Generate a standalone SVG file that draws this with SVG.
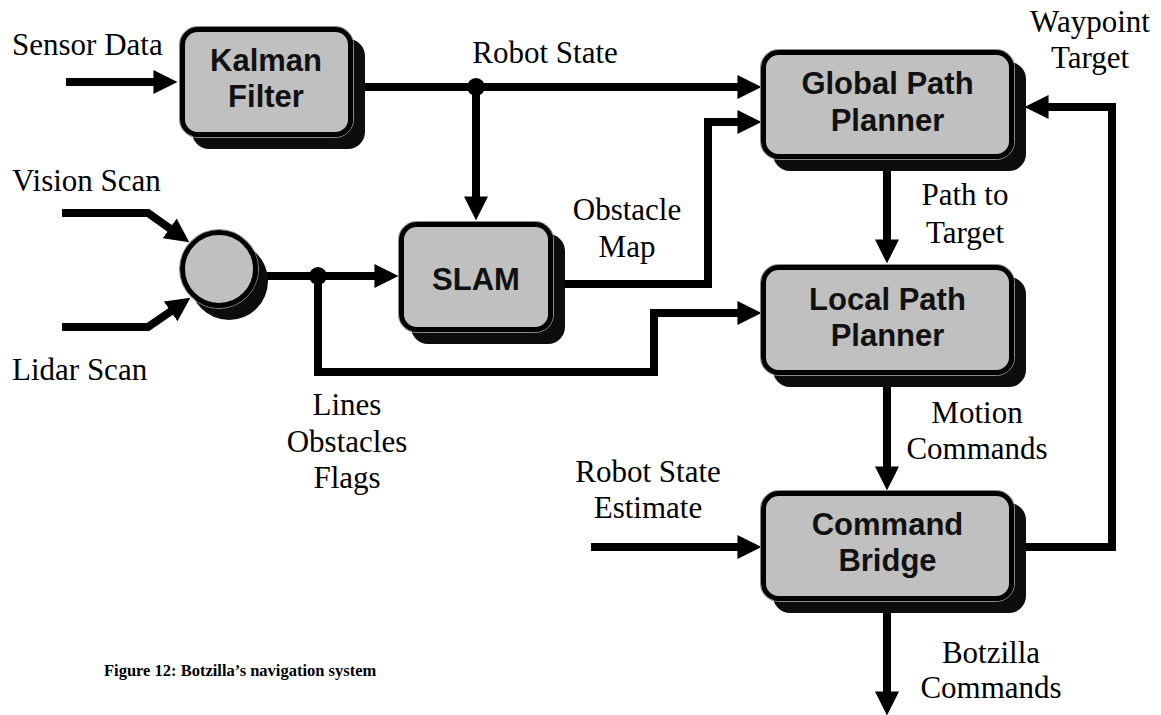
<svg xmlns="http://www.w3.org/2000/svg" width="1161" height="715" viewBox="0 0 1161 715">
  <style>
    .lbl { font-family: "Liberation Serif", "Times New Roman", serif; font-size: 31px; fill: #000; }
    .mid { text-anchor: middle; }
    .box { fill: #c0c0c0; stroke: #000; stroke-width: 5; }
    .edge { fill: none; stroke: #8a8a8a; stroke-width: 1; }
    .shadow { fill: #0d0d0d; }
    .name { font-family: "Liberation Sans", Arial, sans-serif; font-size: 31px; font-weight: bold; text-anchor: middle; fill: #111; }
    .wire { fill: none; stroke: #000; stroke-width: 8; stroke-linejoin: miter; }
    .arrow { marker-end: url(#head); }
    .caption { font-family: "Liberation Serif", "Times New Roman", serif; font-size: 16.5px; font-weight: bold; fill: #000; }
  </style>
  <defs>
    <marker id="head" markerUnits="userSpaceOnUse" markerWidth="24" markerHeight="24" viewBox="0 0 23 23" refX="13" refY="11.5" orient="auto">
      <path d="M0,0 L23,11.5 L0,23 Z" fill="#000"/>
    </marker>
  </defs>
  <rect width="1161" height="715" fill="#fff"/>

  <!-- connectors -->
  <g id="connectors">
    <!-- sensor data into Kalman filter -->
    <path class="wire arrow" d="M66,82 H167"/>
    <!-- robot state to global planner -->
    <path class="wire arrow" d="M353,87 H751"/>
    <!-- robot state down to SLAM -->
    <path class="wire arrow" d="M476,87 V210"/>
    <circle cx="476" cy="87" r="9" fill="#000"/>
    <!-- vision / lidar into the merge node -->
    <path class="wire arrow" d="M62,213 H148 L180.8,236.2"/>
    <path class="wire arrow" d="M62,327 H148 L181.8,303.7"/>
    <!-- merged scan into SLAM -->
    <path class="wire arrow" d="M256,276 H388"/>
    <circle cx="318" cy="276" r="9" fill="#000"/>
    <!-- scan features to local planner -->
    <path class="wire arrow" d="M318,276 V372 H654 V313 H751"/>
    <!-- obstacle map to global planner -->
    <path class="wire arrow" d="M553,284 H708 V122 H751"/>
    <!-- global to local planner -->
    <path class="wire arrow" d="M887,158 V253"/>
    <!-- local planner to command bridge -->
    <path class="wire arrow" d="M887,375 V480"/>
    <!-- robot state estimate into command bridge -->
    <path class="wire arrow" d="M591,547 H751"/>
    <!-- command bridge feedback to global planner -->
    <path class="wire arrow" d="M1020,547 H1112 V107 H1035"/>
    <!-- command bridge output -->
    <path class="wire arrow" d="M887,600 V705"/>
  </g>

  <!-- nodes -->
  <g id="kalman">
    <rect class="shadow" x="192" y="39" width="173" height="110" rx="17"/>
    <rect class="edge" x="179.5" y="26.5" width="174" height="111" rx="18"/>
    <rect class="box" x="182.5" y="29.5" width="168" height="105" rx="15"/>
    <text class="name" x="266" y="71">Kalman</text>
    <text class="name" x="266" y="107">Filter</text>
  </g>

  <g id="merge">
    <circle class="shadow" cx="229" cy="281" r="39"/>
    <circle cx="219" cy="269" r="39.5" fill="none" stroke="#8a8a8a" stroke-width="1"/>
    <circle class="box" cx="219" cy="269" r="36.5"/>
  </g>

  <g id="slam">
    <rect class="shadow" x="411" y="234" width="154" height="110" rx="17"/>
    <rect class="edge" x="398.5" y="221.5" width="155" height="111" rx="18"/>
    <rect class="box" x="401.5" y="224.5" width="149" height="105" rx="15"/>
    <text class="name" x="476" y="290">SLAM</text>
  </g>

  <g id="global-planner">
    <rect class="shadow" x="773" y="62" width="253" height="109" rx="17"/>
    <rect class="edge" x="760.5" y="49.5" width="254" height="110" rx="18"/>
    <rect class="box" x="763.5" y="52.5" width="248" height="104" rx="15"/>
    <text class="name" x="887.5" y="94">Global Path</text>
    <text class="name" x="887.5" y="131">Planner</text>
  </g>

  <g id="local-planner">
    <rect class="shadow" x="773" y="277" width="253" height="110" rx="17"/>
    <rect class="edge" x="760.5" y="264.5" width="254" height="111" rx="18"/>
    <rect class="box" x="763.5" y="267.5" width="248" height="105" rx="15"/>
    <text class="name" x="887.5" y="310">Local Path</text>
    <text class="name" x="887.5" y="346">Planner</text>
  </g>

  <g id="command-bridge">
    <rect class="shadow" x="773" y="503" width="253" height="110" rx="17"/>
    <rect class="edge" x="760.5" y="490.5" width="254" height="111" rx="18"/>
    <rect class="box" x="763.5" y="493.5" width="248" height="105" rx="15"/>
    <text class="name" x="887.5" y="535">Command</text>
    <text class="name" x="887.5" y="571">Bridge</text>
  </g>

  <!-- signal labels -->
  <g id="labels">
    <text class="lbl" x="12" y="55">Sensor Data</text>
    <text class="lbl" x="12" y="191">Vision Scan</text>
    <text class="lbl" x="12" y="380">Lidar Scan</text>
    <text class="lbl mid" x="545" y="63">Robot State</text>
    <text class="lbl mid" x="627" y="220">Obstacle</text>
    <text class="lbl mid" x="627" y="257">Map</text>
    <text class="lbl mid" x="1090" y="32">Waypoint</text>
    <text class="lbl mid" x="1090" y="68">Target</text>
    <text class="lbl mid" x="965" y="205">Path to</text>
    <text class="lbl mid" x="965" y="243">Target</text>
    <text class="lbl mid" x="347" y="415">Lines</text>
    <text class="lbl mid" x="347" y="452">Obstacles</text>
    <text class="lbl mid" x="347" y="488">Flags</text>
    <text class="lbl mid" x="977" y="423">Motion</text>
    <text class="lbl mid" x="977" y="459">Commands</text>
    <text class="lbl mid" x="648" y="482">Robot State</text>
    <text class="lbl mid" x="648" y="518">Estimate</text>
    <text class="lbl mid" x="991" y="663">Botzilla</text>
    <text class="lbl mid" x="991" y="698">Commands</text>
  </g>

  <text class="caption" x="104" y="676">Figure 12: Botzilla’s navigation system</text>
</svg>
